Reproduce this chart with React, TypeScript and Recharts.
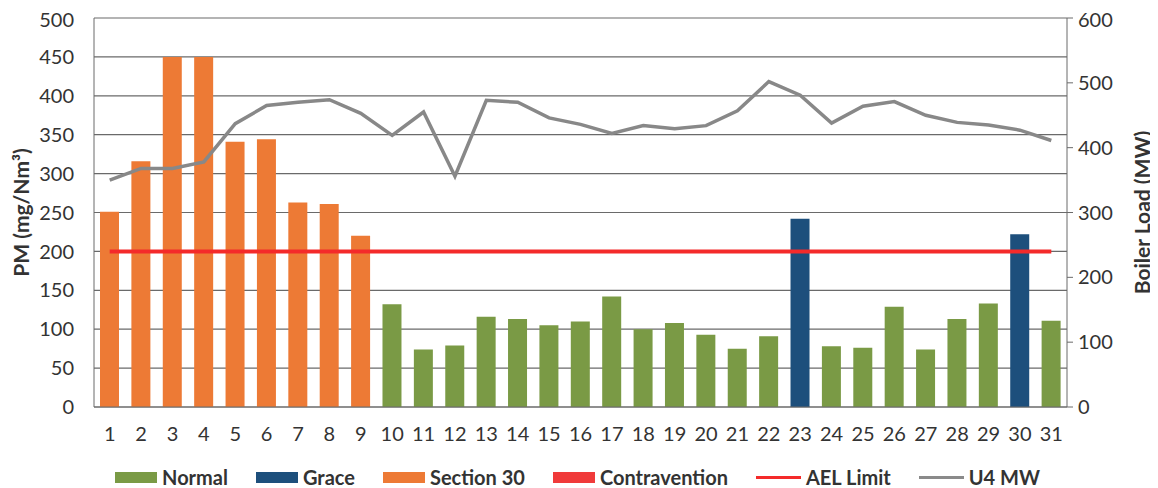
import React from "react";
import { ComposedChart, Bar, Line, XAxis, YAxis, CartesianGrid, Legend, Cell } from "recharts";

// day of month
const days = ["1", "2", "3", "4", "5", "6", "7", "8", "9", "10", "11", "12", "13", "14", "15", "16",
  "17", "18", "19", "20", "21", "22", "23", "24", "25", "26", "27", "28", "29", "30", "31"];

// PM emissions (mg/Nm3)
const pmValues = [251, 316, 450, 450, 341, 344, 263, 261, 220, 132, 74, 79, 116, 113, 105, 110,
  142, 100, 108, 93, 75, 91, 242, 78, 76, 129, 74, 113, 133, 222, 111];

// compliance status per day
const status = ["Section 30", "Section 30", "Section 30", "Section 30", "Section 30", "Section 30",
  "Section 30", "Section 30", "Section 30", "Normal", "Normal", "Normal", "Normal", "Normal", "Normal",
  "Normal", "Normal", "Normal", "Normal", "Normal", "Normal", "Normal", "Grace", "Normal", "Normal",
  "Normal", "Normal", "Normal", "Normal", "Grace", "Normal"];

// U4 boiler load (MW)
const u4Mw = [350, 368, 368, 378, 437, 465, 470, 474, 453, 419, 455, 356, 473, 470, 446, 436,
  422, 434, 429, 434, 457, 502, 481, 438, 464, 471, 450, 439, 435, 427, 411];

const aelLimit = 200;

const leftTicks = [0, 50, 100, 150, 200, 250, 300, 350, 400, 450, 500];
const rightTicks = [0, 100, 200, 300, 400, 500, 600];

const statusColors: Record<string, string> = {
  Normal: "#7a9a45",
  Grace: "#1d4f7c",
  "Section 30": "#ed7a35",
  Contravention: "#f03a3a",
};

const data = days.map((d, i) => ({
  day: d,
  pm: pmValues[i],
  status: status[i],
  ael: aelLimit,
  mw: u4Mw[i],
}));

const font = "Lato, 'Open Sans', sans-serif";
const tickStyle = { fontSize: 20, fill: "#333", fontFamily: font };
const titleStyle = { textAnchor: "middle", fontSize: 21, fontWeight: 700, fill: "#333", fontFamily: font };

const legendItems = [
  { name: "Normal", type: "rect", color: statusColors.Normal },
  { name: "Grace", type: "rect", color: statusColors.Grace },
  { name: "Section 30", type: "rect", color: statusColors["Section 30"] },
  { name: "Contravention", type: "rect", color: statusColors.Contravention },
  { name: "AEL Limit", type: "line", color: "#f42a2a" },
  { name: "U4 MW", type: "line", color: "#8a8a8a" },
];

function ChartLegend() {
  return (
    <div style={{ display: "flex", justifyContent: "center", alignItems: "flex-end", gap: 28, fontFamily: font, fontSize: 20, fontWeight: 700, color: "#333", height: 40 }}>
      {legendItems.map((it) => (
        <div key={it.name} style={{ display: "flex", alignItems: "center", height: 22 }}>
          {it.type === "rect" ? (
            <span style={{ display: "inline-block", width: 42, height: 11, background: it.color, marginRight: 5 }} />
          ) : (
            <span style={{ display: "inline-block", width: 45, height: 3, background: it.color, marginRight: 5 }} />
          )}
          <span>{it.name}</span>
        </div>
      ))}
    </div>
  );
}

export default function App() {
  return (
    <div style={{ width: 1150, height: 480 }}>
      <ComposedChart width={1150} height={480} data={data} margin={{ top: 10, right: 11, bottom: 0, left: 0 }} barSize={19}>
        <CartesianGrid yAxisId="left" vertical={false} stroke="#6a6a6a" strokeWidth={1.2} />
        <XAxis dataKey="day" height={41} tickLine={false} axisLine={{ stroke: "#6a6a6a" }} tick={tickStyle} tickMargin={14} interval={0} />
        <YAxis
          yAxisId="left"
          domain={[0, 500]}
          ticks={leftTicks}
          width={86}
          tickLine={false}
          axisLine={{ stroke: "#6a6a6a" }}
          tick={tickStyle}
          tickMargin={14}
          label={{ value: "PM (mg/Nm³)", angle: -90, position: "insideLeft", offset: 14, style: titleStyle }}
        />
        <YAxis
          yAxisId="right"
          orientation="right"
          domain={[0, 600]}
          ticks={rightTicks}
          width={80}
          tickSize={6}
          tickLine={{ stroke: "#6a6a6a" }}
          axisLine={{ stroke: "#6a6a6a" }}
          tick={tickStyle}
          tickMargin={5}
          label={{ value: "Boiler Load (MW)", angle: -90, position: "insideRight", offset: 4, style: titleStyle }}
        />
        <Legend verticalAlign="bottom" content={() => <ChartLegend />} wrapperStyle={{ height: 40 }} />
        <Bar yAxisId="left" dataKey="pm" isAnimationActive={false}>
          {data.map((d) => (
            <Cell key={d.day} fill={statusColors[d.status]} />
          ))}
        </Bar>
        <Line yAxisId="left" dataKey="ael" stroke="#f42a2a" strokeWidth={4} dot={false} isAnimationActive={false} />
        <Line yAxisId="right" dataKey="mw" stroke="#888888" strokeWidth={3.5} dot={false} isAnimationActive={false} />
      </ComposedChart>
    </div>
  );
}
